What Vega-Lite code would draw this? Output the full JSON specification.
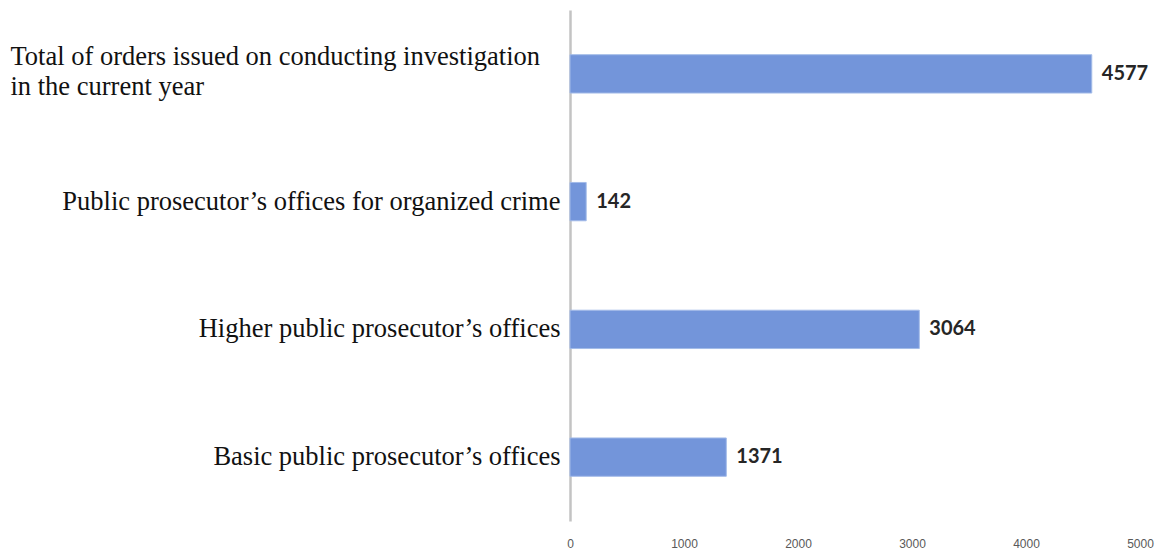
{
  "$schema": "https://vega.github.io/schema/vega-lite/v6.json",
  "autosize": {"type": "none"},
  "padding": {"left": 570, "top": 10, "right": 29, "bottom": 33},
  "width": 570,
  "height": 511,
  "background": "white",
  "config": {"view": {"stroke": null}},
  "data": {
    "values": [
      {"category": "Total of orders issued on conducting investigation|in the current year", "value": 4577},
      {"category": "Public prosecutor’s offices for organized crime", "value": 142},
      {"category": "Higher public prosecutor’s offices", "value": 3064},
      {"category": "Basic public prosecutor’s offices", "value": 1371}
    ]
  },
  "encoding": {
    "y": {
      "field": "category",
      "type": "nominal",
      "sort": null,
      "scale": {"paddingInner": 0.7, "paddingOuter": 0.35},
      "axis": {
        "title": null,
        "ticks": false,
        "tickSize": 0,
        "grid": false,
        "domain": true,
        "domainColor": "#c3c3c3",
        "domainWidth": 2.5,
        "labelFont": "Liberation Serif",
        "labelFontSize": 26.5,
        "labelColor": "#111111",
        "labelAlign": {"condition": {"test": "indexof(datum.value, '|') >= 0", "value": "left"}, "value": "right"},
        "labelPadding": {"condition": {"test": "indexof(datum.value, '|') >= 0", "value": 560}, "value": 10},
        "labelOffset": {"condition": {"test": "indexof(datum.value, '|') >= 0", "value": -17}, "value": 0},
        "labelLimit": 600,
        "labelLineHeight": 30,
        "labelExpr": "split(datum.label, '|')"
      }
    },
    "x": {
      "field": "value",
      "type": "quantitative",
      "scale": {"domain": [0, 5000], "nice": false},
      "axis": {
        "title": null,
        "values": [0, 1000, 2000, 3000, 4000, 5000],
        "format": "d",
        "grid": false,
        "ticks": false,
        "domain": false,
        "labelFont": "Liberation Sans",
        "labelFontSize": 12,
        "labelColor": "#595959",
        "labelPadding": 17,
        "labelFlush": false
      }
    }
  },
  "layer": [
    {
      "mark": {"type": "bar", "fill": "#7395da", "stroke": "#a3bbe8", "strokeWidth": 1}
    },
    {
      "mark": {
        "type": "text",
        "align": "left",
        "baseline": "middle",
        "dx": 10,
        "font": "Lato",
        "fontWeight": "bold",
        "fontSize": 20,
        "color": "#262626"
      },
      "encoding": {"text": {"field": "value", "type": "quantitative"}}
    }
  ]
}
